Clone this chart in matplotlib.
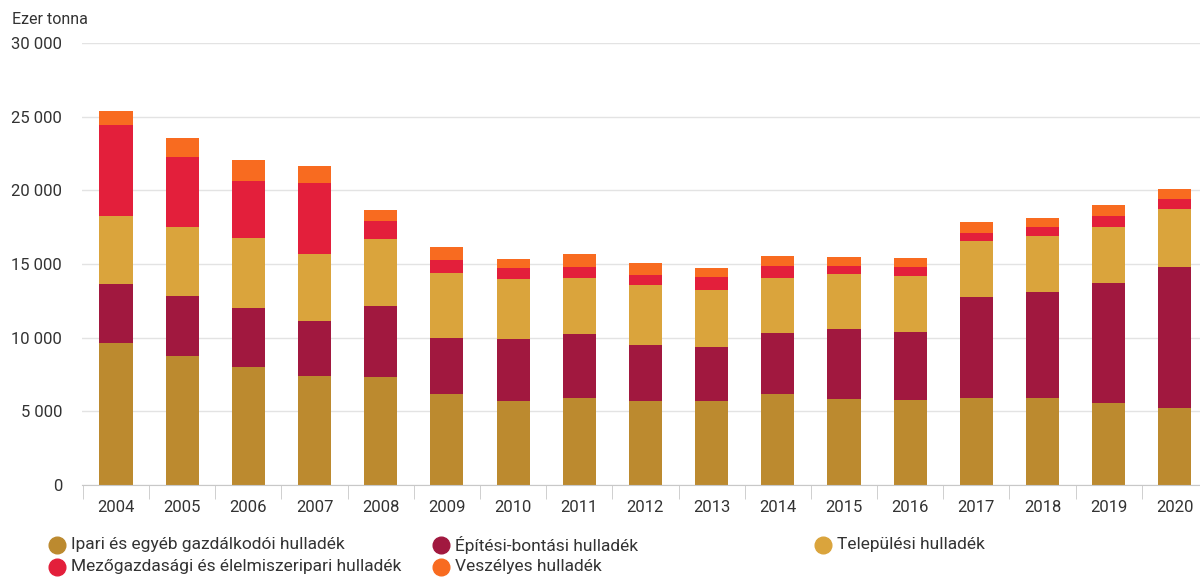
import matplotlib.pyplot as plt
from matplotlib.lines import Line2D
from matplotlib.ticker import FuncFormatter, FixedLocator
import numpy as np

plt.rcParams['font.family'] = ['Roboto', 'DejaVu Sans']

years = [str(y) for y in range(2004, 2021)]

# ezer tonna
ipari = [9610, 8780, 8010, 7420, 7330, 6160, 5720, 5910, 5720, 5720, 6160, 5820, 5750, 5910, 5910, 5570, 5250]
epitesi = [4040, 4070, 4030, 3690, 4840, 3840, 4170, 4320, 3760, 3670, 4180, 4750, 4660, 6850, 7190, 8140, 9530]
telepulesi = [4610, 4640, 4700, 4550, 4550, 4370, 4070, 3800, 4080, 3830, 3690, 3730, 3800, 3800, 3800, 3780, 3980]
mezogazdasagi = [6200, 4780, 3920, 4860, 1180, 900, 750, 750, 700, 900, 820, 590, 570, 570, 580, 800, 660]
veszelyes = [930, 1290, 1380, 1110, 770, 890, 610, 880, 790, 590, 720, 570, 610, 700, 670, 720, 680]

series = [
    ("Ipari és egyéb gazdálkodói hulladék", ipari, "#BC8A2F"),
    ("Építési-bontási hulladék", epitesi, "#A1183F"),
    ("Települési hulladék", telepulesi, "#DAA43C"),
    ("Mezőgazdasági és élelmiszeripari hulladék", mezogazdasagi, "#E31F3B"),
    ("Veszélyes hulladék", veszelyes, "#F86B20"),
]

fig = plt.figure(figsize=(12, 5.78), dpi=100)
ax = fig.add_axes([0.068, 0.161, 0.932, 0.7645])

x = np.arange(len(years))
bottom = np.zeros(len(years))
for name, vals, color in series:
    ax.bar(x, vals, bottom=bottom, width=0.5, color=color, label=name, zorder=2)
    bottom += np.array(vals)

ax.set_ylim(0, 30000)
ax.set_xlim(-0.52, 16.38)
ax.set_yticks(range(0, 30001, 5000))
ax.yaxis.set_major_formatter(FuncFormatter(lambda v, p: f"{int(v):,}".replace(",", " ")))
ax.grid(axis="y", color="#e3e3e3", linewidth=1, zorder=0)
ax.set_axisbelow(True)

for s in ["top", "right", "left"]:
    ax.spines[s].set_visible(False)
ax.spines["bottom"].set_color("#c8c8c8")

# year labels centred, tick marks between the bars
ax.set_xticks(x)
ax.set_xticklabels(years)
ax.xaxis.set_minor_locator(FixedLocator(np.arange(-0.5, len(years), 1.0)))
ax.tick_params(axis="x", which="major", length=0, pad=11, labelsize=12, labelcolor="#333333")
ax.tick_params(axis="x", which="minor", length=10, color="#c8c8c8")
ax.tick_params(axis="y", length=0, pad=14, labelsize=12, labelcolor="#333333")

fig.text(0.01, 0.967, "Ezer tonna", fontsize=11.5, color="#333333", va="center", ha="left")

# legend: two rows, three columns, placed by hand in pixel terms
W, H = 1200, 578
legend_pos = [
    (57, 545, series[0]),
    (57, 567, series[3]),
    (441, 545, series[1]),
    (441, 567, series[4]),
    (823, 545, series[2]),
]
for px, py, (name, _, color) in legend_pos:
    fig.add_artist(Line2D([px / W], [1 - py / H], marker="o", linestyle="",
                          markersize=12, markerfacecolor=color, markeredgecolor=color,
                          transform=fig.transFigure))
    fig.text((px + 14) / W, 1 - py / H, name, fontsize=12.5, color="#333333",
             va="center", ha="left")

fig.savefig("out.png", dpi=100)
